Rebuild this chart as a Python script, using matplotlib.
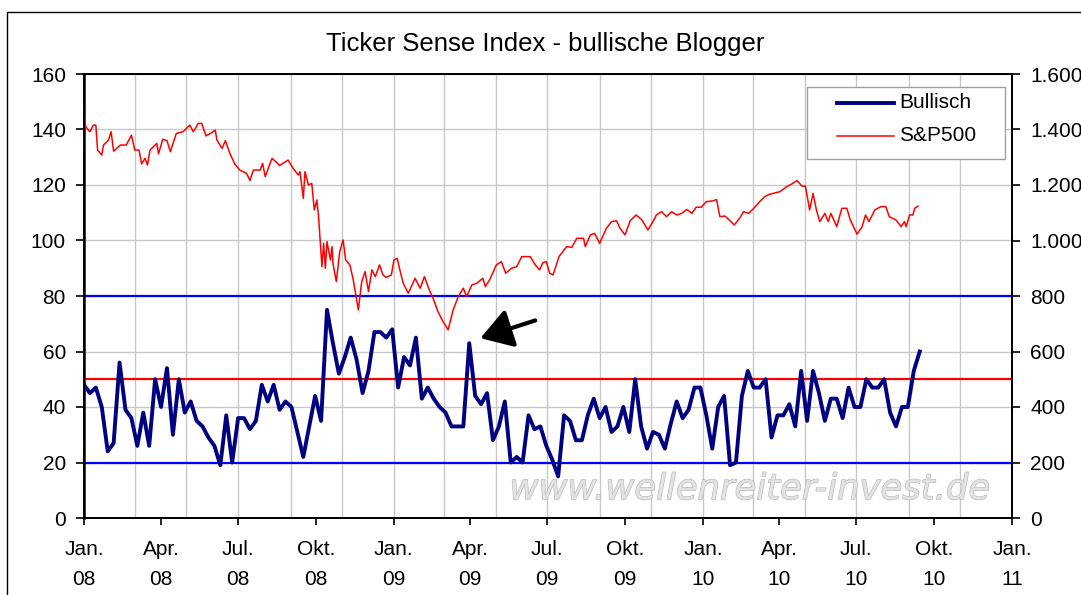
import numpy as np
import pandas as pd
import matplotlib
matplotlib.use('Agg')
import matplotlib.pyplot as plt
import matplotlib.patheffects as pe
from matplotlib.patches import Rectangle
from matplotlib.lines import Line2D
from matplotlib.ticker import FuncFormatter

plt.rcParams['font.family'] = ['Liberation Sans', 'DejaVu Sans']

# weekly share of bullish bloggers (%), first reading 2008-01-01
bull_start = '2008-01-01'
bullisch = [48, 45, 47, 40, 24, 27, 56, 39, 36, 26, 38, 26, 50, 40, 54, 30,
            50, 38, 42, 35, 33, 29, 26, 19, 37, 20, 36, 36, 32, 35, 48, 42,
            48, 39, 42, 40, 31, 22, 33, 44, 35,
            75, 63, 52, 58, 65, 57, 45, 53, 67, 67, 65, 68, 47, 58, 55, 65,
            43, 47, 43, 40, 38, 33, 33, 33, 63, 44, 41, 45, 28, 33, 42, 20,
            22, 20, 37, 32, 33,
            26, 21, 15, 37, 35, 28, 28, 37, 43, 36, 40, 31, 33, 40, 31, 50,
            33, 25, 31, 30, 25, 34, 42, 36, 39, 47, 47, 37, 25, 40, 44, 19,
            20, 44, 53, 47, 47, 50, 29,
            37, 37, 41, 33, 53, 35, 53, 45, 35, 43, 43, 36, 47, 40, 40, 50,
            47, 47, 50, 38, 33, 40, 40, 53, 60]

# S&P 500 closes, days counted from 2008-01-01
sp_start = '2008-01-01'
sp_days = [0, 2, 7, 11, 14, 16, 21, 23, 29, 32, 35, 43, 50, 56, 60, 65, 68, 72,
           75, 78, 86, 88, 93, 98, 102, 109, 117, 125, 129, 135, 139, 144, 151,
           155, 157, 163, 167, 172, 178, 184, 192, 196, 200, 208, 211, 214, 222,
           228, 231, 241, 247, 253,
           255, 259, 261, 265, 269, 272, 275, 277, 281, 283, 285, 287, 291, 293,
           294, 298, 302, 306, 309, 314, 318, 324, 328, 332, 336, 340, 344, 349,
           353, 357, 363, 366, 370, 373, 377, 383, 391, 397, 402, 407, 413, 418,
           424, 430, 436, 442, 448, 452, 458, 464, 471, 474, 479, 487, 493, 498,
           505, 511, 517, 527, 533, 538,
           542, 546, 550, 554, 561, 570, 576, 582, 590, 592, 598, 603, 609, 617,
           623, 629, 633, 639, 645, 652, 659, 666, 672, 676, 682, 688, 694, 700,
           706, 712, 718, 723, 729, 735, 743, 747, 751, 757, 762, 768, 775, 779,
           785, 791, 798, 804, 809,
           814, 822, 830, 836, 842, 848, 852, 857, 861, 865, 869, 875, 879, 882,
           889, 895, 901, 905, 913, 919, 923, 927, 934, 941, 947, 951, 959, 965,
           969, 971, 975, 979, 981, 985]
sp500 = [1468, 1410, 1392, 1416, 1416, 1326, 1308, 1344, 1362, 1392, 1322, 1344,
         1344, 1380, 1326, 1326, 1276, 1296, 1272, 1326, 1350, 1312, 1365, 1360,
         1320, 1386, 1392, 1416, 1392, 1422, 1422, 1377, 1389, 1398, 1362, 1332,
         1360, 1316, 1276, 1254, 1242, 1216, 1254, 1254, 1278, 1230, 1296, 1280,
         1270, 1290, 1260, 1236,
         1248, 1152, 1248, 1200, 1206, 1110, 1146, 1086, 906, 990, 900, 996, 930,
         978, 918, 852, 960, 1002, 930, 912, 858, 750, 852, 888, 816, 894, 870,
         912, 876, 867, 876, 930, 936, 894, 846, 810, 864, 828, 870, 828, 786,
         744, 708, 678, 750, 798, 828, 798, 840, 846, 864, 834, 858, 912, 924,
         882, 900, 906, 942, 942, 912, 894,
         920, 924, 882, 876, 942, 978, 975, 1008, 1008, 978, 1020, 1026, 990,
         1044, 1068, 1071, 1044, 1020, 1071, 1092, 1074, 1038, 1068, 1092, 1104,
         1086, 1104, 1092, 1098, 1112, 1098, 1120, 1120, 1140, 1143, 1148, 1086,
         1088, 1074, 1056, 1083, 1104, 1098, 1116, 1140, 1158, 1166,
         1170, 1176, 1194, 1204, 1216, 1196, 1196, 1110, 1170, 1110, 1068, 1098,
         1068, 1098, 1050, 1116, 1116, 1074, 1023, 1050, 1092, 1068, 1110, 1122,
         1122, 1086, 1074, 1050, 1068, 1050, 1092, 1092, 1116, 1124]

tick_labels = ['Jan.\n08', 'Apr.\n08', 'Jul.\n08', 'Okt.\n08',
               'Jan.\n09', 'Apr.\n09', 'Jul.\n09', 'Okt.\n09',
               'Jan.\n10', 'Apr.\n10', 'Jul.\n10', 'Okt.\n10', 'Jan.\n11']
upper_line, lower_line, mid_line = 80, 20, 50

bull_dates = pd.date_range(bull_start, periods=len(bullisch), freq='7D')
sp_dates = pd.Timestamp(sp_start) + pd.to_timedelta(sp_days, unit='D')
tick_dates = pd.date_range('2008-01-01', '2011-01-01', freq='QS')
grid_dates = pd.date_range('2008-03-01', '2010-12-01', freq='2MS')

BULL_COLOR = '#000080'
SP_COLOR = '#ff0000'

fig = plt.figure(figsize=(10.81, 5.95), dpi=100)
fig.patches.append(Rectangle((7 / 1081, -0.1), 1.2, 1.0 - 12 / 595 + 0.1,
                             transform=fig.transFigure, fill=False,
                             ec='black', lw=1.0))
ax = fig.add_axes([84 / 1081, 1 - 518 / 595, 928 / 1081, 444 / 595])
ax2 = ax.twinx()

for d in grid_dates:
    ax.axvline(d, color='#c8c8c8', lw=1.0, zorder=0)
ax.yaxis.grid(True, color='#c8c8c8', lw=1.0, zorder=0)
ax.set_axisbelow(True)

ax.axhline(upper_line, color='#0000ff', lw=1.6, zorder=2)
ax.axhline(lower_line, color='#0000ff', lw=1.6, zorder=2)
ax.axhline(mid_line, color='#ff0000', lw=1.6, zorder=2)
ax.plot(bull_dates, bullisch, color=BULL_COLOR, lw=2.8, zorder=3)
ax2.plot(sp_dates, sp500, color=SP_COLOR, lw=1.1)

ax.set_xlim(pd.Timestamp('2008-01-01'), pd.Timestamp('2011-01-01'))
ax.set_ylim(0, 160)
ax.set_yticks(np.arange(0, 161, 20))
ax.set_xticks(tick_dates)
ax.set_xticklabels(tick_labels, linespacing=1.75)
ax.tick_params(axis='x', length=5, width=1.2, pad=11, labelsize=15)
ax.tick_params(axis='y', length=6, width=1.2, pad=7, labelsize=15)

ax2.set_ylim(0, 1600)
ax2.set_yticks(np.arange(0, 1601, 200))
ax2.yaxis.set_major_formatter(FuncFormatter(lambda v, p: f'{int(v):,}'.replace(',', '.')))
ax2.tick_params(axis='y', length=6, width=1.2, pad=7, labelsize=15)

for a in (ax, ax2):
    for s in a.spines.values():
        s.set_color('black')
        s.set_linewidth(1.3)
ax.spines['left'].set_linewidth(1.8)

ax.annotate('', xy=(pd.Timestamp('2009-04-10'), 64.5), xytext=(pd.Timestamp('2009-06-20'), 71.5),
            arrowprops=dict(arrowstyle='-|>,head_length=0.8,head_width=0.5',
                            color='black', lw=3.0, mutation_scale=24), zorder=5)

ax.text(0.717, 0.065, 'www.wellenreiter-invest.de', transform=ax.transAxes,
        ha='center', va='center', fontsize=25.5, style='italic',
        family='DejaVu Sans', color='#e2e2e2', zorder=1,
        path_effects=[pe.withStroke(linewidth=0.9, foreground='#bababa')])

# legend box drawn by hand to get Excel's wide padding
ax2.add_patch(Rectangle((0.779, 0.8086), 0.2135, 0.1614, transform=ax2.transAxes,
                        fc='white', ec='#a0a0a0', lw=1.0, zorder=6))
for yy, col, lw, name in [(0.9354, BULL_COLOR, 2.8, 'Bullisch'),
                          (0.8604, SP_COLOR, 1.1, 'S&P500')]:
    ax2.add_line(Line2D([0.8114, 0.8728], [yy, yy], transform=ax2.transAxes,
                        color=col, lw=lw, zorder=7))
    ax2.text(0.8782, yy, name, transform=ax2.transAxes, ha='left',
             va='center', fontsize=15, zorder=7)

fig.text(545 / 1081, 1 - 44 / 595, 'Ticker Sense Index - bullische Blogger',
         ha='center', va='center', fontsize=18.5)

fig.savefig('out.png', dpi=100)
